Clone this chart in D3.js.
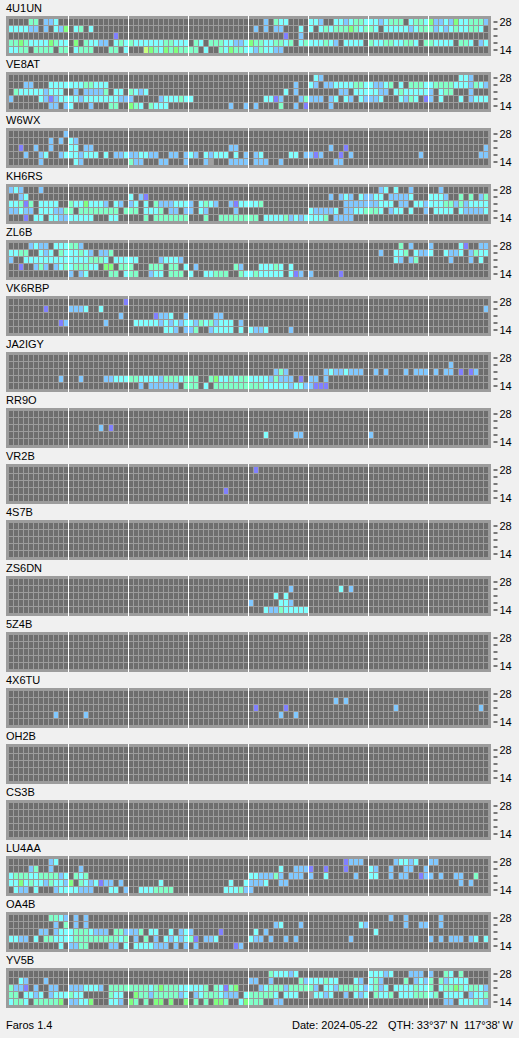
<!DOCTYPE html>
<html>
<head>
<meta charset="utf-8">
<script src="https://cdn.jsdelivr.net/npm/d3@7"></script>
<style>
html,body{margin:0;padding:0;background:#f0f0f0;overflow:hidden}
svg{display:block}
text{font-family:"Liberation Sans",Arial,sans-serif;font-size:11px;fill:#000}
</style>
</head>
<body>
<script>
// Band tick labels, top row first
const bandLabels = ["28", "", "", "", "14"];
// Each row: 8 two-hour groups of 12 slots, separated by "|". "." = no signal, 1..6 = level, 9 = no data
const s4U1UN = [
"....44.223..||||...2.433....|332..3323443|3323444.3443|522325334442",
"333322.2.325|.34.3.......|||.2.2.22...3.|3.3434445434|43.333332344|42323433443.",
"|.........1..|||.......1..2.",
"445433335433|.5.43322.343|433333344333|.43.44433223|544334434.34|333432.3333.|4334433443.4|43333.443.23",
"3344.4444.44|.3444...44.3|...654354544|44.3..435443|3243322....."];
const sVE8AT = [
"|||||.32.........||......332...",
"...22...3333|33344333....|||.........2..|32.223333443|32234.3.4443|344443332432",
".4333332333.|.2.22224.33.|4323........||.......3.2..|......22.333|3322.3433333|2.344...2...",
"2.....321233|332333333322|2.....233343|3...........|...3312...24|222.23.32.32|223...3243.1|2.3...3.2333",
"........22.2|3...2...44..|543.4333....|........2..2|.2....4..2.1|....2......."];
const sW6WX = [
"...........2",
"........2.2.|32..........",
"..1..2..2...|33.22.......||........22..||....2..1....||...........2",
"...2..23..23|332333.3.223|223322..22.2|32.32333.3.2|.23.....33.2|212...1.2...|..........2.|..........22",
"......2.....|.32.........|422...22...2|...29...2222|.222..2.....|.....22....."];
const sKH6RS = [
"232...2.....||||||..23.3..2...|..2.........",
"..23........||3.21........|||....2.232.32|233.22223...|3332..4.4.24",
"33414.3333..|43353332.32.|23.3.4222333|2.3432..2133|334.........|.......22222|22333.22.332|333442423333",
"22322.333224|4.44444444.4|44.3334.22.2|2.32.....2..||322223.22334|443.233.3..2|.3333.322223",
"...1.33.3322|33333...33..|...4.4444444|...4..444444|44.333342323|3334.2222..."];
const sZL6B = [
"....2322.333|442.........|||||......4.2...|2.....31..22",
"3344..323.43|33432.224...|||||..2..334.322|3..3223.2433",
"2..333333333|33334443.333|33....23332.||||.....32.24..|....2...2.3.",
"..1..242.234|344433.55.44|4...444.44.3|.2.......42.|..33343.3...",
"|2.23....44.3|44..233.444.|3..33444..43|3433333.312.|2.....1....."];
const sVK6RBP = [
"|...........1",
".......1....|2223..3.....||||||...........2",
"|..........2.|.....1223..2|.....22.....",
"..........12|.......2....|.33333232323|324342333.2.",
"||.......332.2|24..23333.3.|3223....2..."];
const sJA2IGY = [
"",
"|||||||....2.......",
"||||.....242....|...23223222.|.2.2...2.222|.2.22.1.12..",
"..........2.|..2....22333|443333244434|44..45334344|333324222.1.|22.2........",
"||..2.222222.4|44.3.4444444|444333332332|2111........"];
const sRR9O = ["", "", "|......2.1...", "||||...3.....22.||2...........", ""];
const sVR2B = ["||||.1..........", "", "", "|||.......1....", ""];
const s4S7B = ["", "", "", "", ""];
const sZS6DN = ["", "||||........2...|......3.2...", "||||.....3.3....", "||||2.....332...", "||||...322433333"];
const s5Z4B = ["", "", "", "", ""];
const s4X6TU = ["", "|||||.....2.2....", "||||.1.....1....||.....2......|..........2.", ".........2..|...2........|||......2..2..", ""];
const sOH2B = ["", "", "", "", ""];
const sCS3B = ["", "", "", "", ""];
const sLU4AA = [
"........23..|||||.......1222.|.....23323..|22..........",
"....24..2...|..2.........|||......3..222|1..1...1....|32..2..22..2",
"344433444423|.434........|||3322242.222.|2..3.....2..|33..2.22..12|2.2..22..4..",
"335343324332|5.4323122.2.|......3.....|........3..3|2223..22....|||......2.2...",
".322.3...233|33222...33.2|..3334444...|.......33342|2..........."];
const sOA4B = [
"........4432|.2.2........|||||....2..2....|..2.........",
".........2.4|.2.2........|||.....23...2.|..........32|.......2..22|..2.........",
"......22.233|34443222.442|224.33..3.23|2.....1.....|.3.2........||.3..........",
"3322.3.44333|344444444434|.2.4.2.32323|41.223......|322.2..2.2..|........2...||2.2.222.23.3",
"..........3.|2244....22.3|.3333222.2.2|.2.......12."];
const sYV5B = [
"||||....433323..||33323...222.|2..43.4.....",
"..32...2....||||22..2.....42|333433...32.|342....4.232|4.423333....",
"4221.2..22..|2223332.4444|444434544433|3334.43145..|..2344424444|42.332444432|3423.3333433|4.3445434432",
"44.3323.2333|433.....433.|.54424444423|.234443222.3|444443.333..|93323..2.323|.4334.333444|34.3333.2334",
"3443.444445.|22335...332.|54.4.55.5..5|.4.4.554..35|444..22.....|||...22.333432"];

const stations = ["4U1UN","VE8AT","W6WX","KH6RS","ZL6B","VK6RBP","JA2IGY","RR9O","VR2B","4S7B","ZS6DN","5Z4B","4X6TU","OH2B","CS3B","LU4AA","OA4B","YV5B"];
const signal = [s4U1UN,sVE8AT,sW6WX,sKH6RS,sZL6B,sVK6RBP,sJA2IGY,sRR9O,sVR2B,s4S7B,sZS6DN,s5Z4B,s4X6TU,sOH2B,sCS3B,sLU4AA,sOA4B,sYV5B];
const levels = [".","1","2","3","4","5","6","9"];
const levelColors = ["#6e6e6e","#8080ff","#80c8ff","#80ffff","#80ffc8","#80ff80","#c8ff80","#a0a0a0"];
const footerLeft = "Faros 1.4";
const footerDate = "Date: 2024-05-22";
const footerQth = "QTH: 33°37' N  117°38' W";

const W = 519, H = 1038;
const nCols = 96, colsPerGroup = 12;
const color = d3.scaleOrdinal(levels, levelColors);
const x = d3.scaleLinear([0, nCols], [9, 489]);
const y = d3.scaleLinear([0, bandLabels.length], [3, 38]);
const panelY = d3.scaleLinear([0, 1], [16, 72]);
const cellW = x(1) - x(0) - 1, cellH = y(1) - y(0) - 1;

function parseRow(str) {
  const groups = str.split("|");
  let out = "";
  for (let g = 0; g < nCols / colsPerGroup; g++) out += (groups[g] || "").padEnd(colsPerGroup, ".");
  return out;
}

const svg = d3.select("body").append("svg").attr("width", W).attr("height", H);

const panel = svg.selectAll("g.panel").data(stations).join("g")
  .attr("class", "panel")
  .attr("transform", (d, i) => `translate(0,${panelY(i)})`);

panel.append("text").attr("x", 6).attr("y", -4).text(d => d);

panel.append("rect").attr("x", 6).attr("y", 0).attr("width", 485).attr("height", 40).attr("fill", "#9c9c9c");

panel.each(function (name, i) {
  const g = d3.select(this);
  const cells = [];
  signal[i].forEach((row, r) => {
    const s = parseRow(row);
    for (let c = 0; c < nCols; c++) cells.push({ r, c, v: s[c] });
  });
  g.append("g").attr("shape-rendering", "crispEdges").selectAll("rect").data(cells).join("rect")
    .attr("x", d => x(d.c)).attr("y", d => y(d.r))
    .attr("width", cellW).attr("height", cellH)
    .attr("fill", d => color(d.v));
  g.append("g").selectAll("line").data(d3.range(colsPerGroup, nCols, colsPerGroup)).join("line")
    .attr("x1", d => x(d) - 0.5).attr("x2", d => x(d) - 0.5)
    .attr("y1", 0).attr("y2", 40)
    .attr("stroke", "#ffffff").attr("stroke-width", 1);
  const rowScale = d3.scaleBand(d3.range(bandLabels.length), [y(0) - 0.5, y(bandLabels.length) - 0.5]);
  const axis = d3.axisRight(rowScale).tickSize(4).tickPadding(2).tickFormat(d => bandLabels[d]);
  const ag = g.append("g").attr("transform", "translate(493.5,0)").call(axis);
  ag.select(".domain").remove();
  ag.selectAll("line").attr("stroke", "#000");
  ag.selectAll("text").attr("font-family", null).attr("font-size", null);
});

svg.append("text").attr("x", 6).attr("y", 1029).text(footerLeft);
svg.append("text").attr("x", 292).attr("y", 1029).text(footerDate);
svg.append("text").attr("x", 388).attr("y", 1029).attr("textLength", 125).style("white-space", "pre").text(footerQth);
</script>
</body>
</html>
